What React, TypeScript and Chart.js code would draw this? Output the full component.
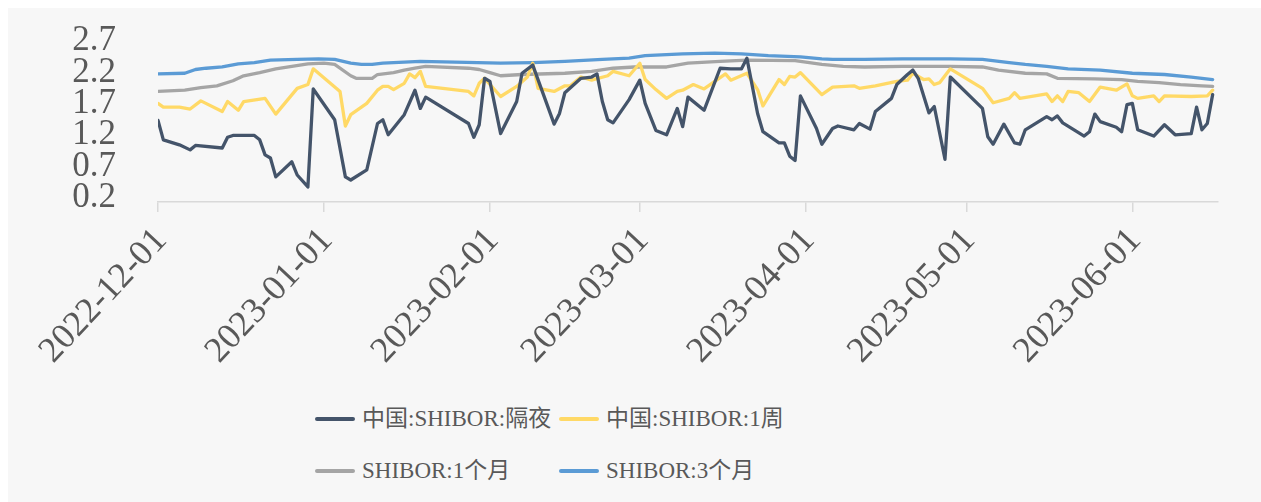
import React, { useEffect, useRef } from "react";
import { Chart, registerables } from "chart.js";

Chart.register(...registerables);

const startDate = "2022-12-01";
const endDate = "2023-06-17";
const monthTicks = ["2022-12-01", "2023-01-01", "2023-02-01", "2023-03-01", "2023-04-01", "2023-05-01", "2023-06-01"];
const yTicks = [0.2, 0.7, 1.2, 1.7, 2.2, 2.7];

const seriesNames = ["中国:SHIBOR:隔夜", "中国:SHIBOR:1周", "SHIBOR:1个月", "SHIBOR:3个月"];
const seriesColors = ["#44546a", "#ffd966", "#a5a5a5", "#5b9bd5"];

const overnightDates = [
  "2022-12-01", "2022-12-02", "2022-12-05", "2022-12-07", "2022-12-08", "2022-12-13", "2022-12-14", "2022-12-15",
  "2022-12-19", "2022-12-20", "2022-12-21", "2022-12-22", "2022-12-23", "2022-12-26", "2022-12-27", "2022-12-29",
  "2022-12-30", "2023-01-03", "2023-01-05", "2023-01-06", "2023-01-09", "2023-01-11", "2023-01-12", "2023-01-13",
  "2023-01-16", "2023-01-18", "2023-01-19", "2023-01-20", "2023-01-28", "2023-01-29", "2023-01-30", "2023-01-31",
  "2023-02-01", "2023-02-03", "2023-02-06", "2023-02-07", "2023-02-09", "2023-02-11", "2023-02-13", "2023-02-14",
  "2023-02-15", "2023-02-18", "2023-02-20", "2023-02-21", "2023-02-22", "2023-02-23", "2023-02-24", "2023-02-27",
  "2023-03-01", "2023-03-02", "2023-03-04", "2023-03-06", "2023-03-08", "2023-03-09", "2023-03-10", "2023-03-13",
  "2023-03-16", "2023-03-18", "2023-03-20", "2023-03-21", "2023-03-23", "2023-03-24", "2023-03-27", "2023-03-28",
  "2023-03-29", "2023-03-30", "2023-03-31", "2023-04-03", "2023-04-04", "2023-04-06", "2023-04-07", "2023-04-10",
  "2023-04-11", "2023-04-13", "2023-04-14", "2023-04-17", "2023-04-18", "2023-04-20", "2023-04-21", "2023-04-22",
  "2023-04-24", "2023-04-25", "2023-04-27", "2023-04-28", "2023-05-04", "2023-05-05", "2023-05-06", "2023-05-08",
  "2023-05-10", "2023-05-11", "2023-05-12", "2023-05-16", "2023-05-17", "2023-05-18", "2023-05-19", "2023-05-23",
  "2023-05-24", "2023-05-25", "2023-05-26", "2023-05-29", "2023-05-30", "2023-05-31", "2023-06-01", "2023-06-02",
  "2023-06-05", "2023-06-07", "2023-06-09", "2023-06-12", "2023-06-13", "2023-06-14", "2023-06-15", "2023-06-16",
];
const overnightValues = [
  1.50, 1.19, 1.11, 1.03, 1.10, 1.06, 1.23, 1.26,
  1.26, 1.19, 0.95, 0.90, 0.60, 0.84, 0.63, 0.44,
  2.00, 1.51, 0.60, 0.55, 0.71, 1.45, 1.51, 1.27,
  1.59, 1.98, 1.69, 1.87, 1.45, 1.23, 1.43, 2.17,
  2.12, 1.29, 1.80, 2.25, 2.38, 1.91, 1.44, 1.61,
  1.94, 2.17, 2.19, 2.24, 1.80, 1.51, 1.46, 1.83,
  2.14, 1.77, 1.34, 1.27, 1.69, 1.40, 1.87, 1.66,
  2.33, 2.32, 2.32, 2.49, 1.61, 1.32, 1.14, 1.14,
  0.93, 0.86, 1.89, 1.37, 1.12, 1.37, 1.41, 1.35,
  1.45, 1.36, 1.64, 1.85, 2.07, 2.23, 2.30, 2.17,
  1.62, 1.72, 0.88, 2.19, 1.69, 1.24, 1.12, 1.44,
  1.14, 1.12, 1.35, 1.56, 1.51, 1.57, 1.46, 1.25,
  1.32, 1.60, 1.48, 1.39, 1.32, 1.75, 1.77, 1.35,
  1.25, 1.43, 1.27, 1.29, 1.71, 1.35, 1.45, 1.91,
];

const weekDates = [
  "2022-12-01", "2022-12-02", "2022-12-05", "2022-12-07", "2022-12-09", "2022-12-13", "2022-12-14", "2022-12-16",
  "2022-12-17", "2022-12-21", "2022-12-23", "2022-12-27", "2022-12-29", "2022-12-30", "2023-01-04", "2023-01-05",
  "2023-01-06", "2023-01-09", "2023-01-11", "2023-01-12", "2023-01-13", "2023-01-14", "2023-01-16", "2023-01-17",
  "2023-01-18", "2023-01-19", "2023-01-20", "2023-01-28", "2023-01-29", "2023-01-30", "2023-01-31", "2023-02-03",
  "2023-02-06", "2023-02-08", "2023-02-09", "2023-02-10", "2023-02-13", "2023-02-15", "2023-02-16", "2023-02-18",
  "2023-02-20", "2023-02-23", "2023-02-24", "2023-02-27", "2023-03-01", "2023-03-02", "2023-03-04", "2023-03-06",
  "2023-03-08", "2023-03-09", "2023-03-11", "2023-03-13", "2023-03-15", "2023-03-17", "2023-03-18", "2023-03-21",
  "2023-03-23", "2023-03-24", "2023-03-27", "2023-03-28", "2023-03-29", "2023-03-30", "2023-03-31", "2023-04-04",
  "2023-04-06", "2023-04-10", "2023-04-11", "2023-04-14", "2023-04-18", "2023-04-20", "2023-04-21", "2023-04-23",
  "2023-04-24", "2023-04-25", "2023-04-26", "2023-04-28", "2023-05-04", "2023-05-06", "2023-05-09", "2023-05-10",
  "2023-05-11", "2023-05-16", "2023-05-17", "2023-05-18", "2023-05-19", "2023-05-20", "2023-05-22", "2023-05-24",
  "2023-05-26", "2023-05-29", "2023-05-31", "2023-06-01", "2023-06-02", "2023-06-05", "2023-06-06", "2023-06-07",
  "2023-06-12", "2023-06-15", "2023-06-16",
];
const weekValues = [
  1.77, 1.71, 1.71, 1.68, 1.81, 1.64, 1.80, 1.66,
  1.80, 1.85, 1.60, 2.01, 2.07, 2.32, 1.96, 1.41,
  1.59, 1.77, 1.98, 2.04, 2.04, 1.99, 2.09, 2.24,
  2.18, 2.28, 2.04, 1.96, 1.89, 2.09, 2.17, 1.88,
  2.04, 2.19, 2.41, 2.01, 1.96, 2.05, 2.05, 2.19,
  2.14, 2.21, 2.28, 2.21, 2.41, 2.15, 1.99, 1.85,
  1.96, 1.98, 2.07, 2.00, 2.12, 2.24, 2.14, 2.25,
  1.99, 1.73, 2.15, 2.07, 2.20, 2.19, 2.26, 1.91,
  2.03, 2.05, 2.01, 2.05, 2.12, 2.14, 2.25, 2.15,
  2.16, 2.07, 2.10, 2.32, 2.01, 1.78, 1.85, 1.94,
  1.85, 1.92, 1.80, 1.89, 1.80, 1.96, 1.94, 1.80,
  2.03, 1.98, 2.08, 1.89, 1.85, 1.89, 1.80, 1.89,
  1.88, 1.89, 1.98,
];

const monthDates = [
  "2022-12-01", "2022-12-06", "2022-12-09", "2022-12-12", "2022-12-15", "2022-12-17", "2022-12-20", "2022-12-23",
  "2022-12-26", "2022-12-29", "2023-01-01", "2023-01-03", "2023-01-06", "2023-01-07", "2023-01-10", "2023-01-11",
  "2023-01-14", "2023-01-16", "2023-01-18", "2023-01-20", "2023-01-28", "2023-01-30", "2023-02-01", "2023-02-03",
  "2023-02-07", "2023-02-15", "2023-02-20", "2023-02-24", "2023-02-28", "2023-03-06", "2023-03-10", "2023-03-16",
  "2023-03-21", "2023-03-30", "2023-04-04", "2023-04-08", "2023-04-12", "2023-04-19", "2023-04-28", "2023-05-04",
  "2023-05-07", "2023-05-12", "2023-05-16", "2023-05-18", "2023-05-25", "2023-05-30", "2023-06-02", "2023-06-06",
  "2023-06-10", "2023-06-14", "2023-06-16",
];
const monthValues = [
  1.96, 1.98, 2.02, 2.05, 2.13, 2.21, 2.26, 2.32,
  2.36, 2.40, 2.41, 2.39, 2.21, 2.17, 2.17, 2.23,
  2.26, 2.30, 2.33, 2.36, 2.33, 2.31, 2.26, 2.21,
  2.23, 2.25, 2.28, 2.33, 2.35, 2.35, 2.41, 2.44,
  2.46, 2.45, 2.39, 2.36, 2.35, 2.36, 2.36, 2.35,
  2.30, 2.25, 2.24, 2.17, 2.16, 2.15, 2.12, 2.10,
  2.07, 2.05, 2.04,
];

const quarterDates = [
  "2022-12-01", "2022-12-06", "2022-12-08", "2022-12-10", "2022-12-13", "2022-12-16", "2022-12-19", "2022-12-22",
  "2022-12-27", "2022-12-31", "2023-01-03", "2023-01-06", "2023-01-08", "2023-01-10", "2023-01-12", "2023-01-19",
  "2023-02-03", "2023-02-09", "2023-02-15", "2023-02-22", "2023-02-27", "2023-03-02", "2023-03-09", "2023-03-15",
  "2023-03-20", "2023-03-25", "2023-03-31", "2023-04-04", "2023-04-06", "2023-04-12", "2023-04-19", "2023-04-28",
  "2023-05-04", "2023-05-09", "2023-05-12", "2023-05-16", "2023-05-20", "2023-05-26", "2023-06-01", "2023-06-07",
  "2023-06-12", "2023-06-16",
];
const quarterValues = [
  2.24, 2.25, 2.31, 2.33, 2.35, 2.40, 2.42, 2.46,
  2.47, 2.48, 2.47, 2.41, 2.39, 2.39, 2.41, 2.44,
  2.41, 2.42, 2.44, 2.47, 2.49, 2.53, 2.56, 2.57,
  2.56, 2.53, 2.51, 2.48, 2.47, 2.47, 2.48, 2.48,
  2.47, 2.42, 2.39, 2.36, 2.32, 2.30, 2.25, 2.23,
  2.19, 2.15,
];

const DAY = 86400000;
const dayOffset = (d: string) => Math.round((Date.parse(d) - Date.parse(startDate)) / DAY);
const dateFromOffset = (n: number) => new Date(Date.parse(startDate) + n * DAY).toISOString().slice(0, 10);

const FONT = "'Liberation Serif', 'Times New Roman', 'Noto Sans CJK SC', serif";
const TEXT_COLOR = "#595959";

const W = 1253;
const H = 392;
const PLOT_LEFT = 150;
const PLOT_RIGHT = 1210;
const PLOT_TOP = 37;
const PLOT_BOTTOM = 194;

export default function App() {
  const ref = useRef<HTMLCanvasElement | null>(null);

  useEffect(() => {
    if (!ref.current) return;
    const all = [
      [overnightDates, overnightValues],
      [weekDates, weekValues],
      [monthDates, monthValues],
      [quarterDates, quarterValues],
    ] as [string[], number[]][];
    const datasets = all.map(([dates, values], i) => ({
      label: seriesNames[i],
      data: dates.map((d, j) => ({ x: dayOffset(d), y: values[j] })),
      borderColor: seriesColors[i],
      backgroundColor: seriesColors[i],
      borderWidth: 3.3,
      pointRadius: 0,
      tension: 0,
      borderJoinStyle: "round" as const,
      borderCapStyle: "round" as const,
      fill: false,
    }));

    const chart = new Chart(ref.current, {
      type: "line",
      data: { datasets },
      options: {
        animation: false,
        responsive: false,
        events: [],
        layout: {
          padding: { left: 0, right: W - PLOT_RIGHT, top: PLOT_TOP, bottom: 0 },
        },
        plugins: {
          legend: { display: false },
          tooltip: { enabled: false },
          title: { display: false },
        },
        scales: {
          x: {
            type: "linear",
            min: 0,
            max: dayOffset(endDate),
            afterBuildTicks: (scale: any) => {
              scale.ticks = monthTicks.map((d) => ({ value: dayOffset(d) }));
            },
            afterFit: (scale: any) => {
              scale.height = H - PLOT_BOTTOM;
              scale.paddingLeft = 0;
              scale.paddingRight = 0;
            },
            ticks: {
              autoSkip: false,
              maxRotation: 47,
              minRotation: 47,
              padding: 8,
              labelOffset: 3,
              color: TEXT_COLOR,
              font: { family: FONT, size: 36 },
              callback: (v: any) => dateFromOffset(Number(v)),
            },
            grid: {
              drawOnChartArea: false,
              drawTicks: true,
              tickLength: 10,
              color: "#d9d9d9",
              lineWidth: 1.5,
            },
            border: { display: true, color: "#d9d9d9", width: 1.5 },
          },
          y: {
            type: "linear",
            min: yTicks[0],
            max: yTicks[yTicks.length - 1],
            afterBuildTicks: (scale: any) => {
              scale.ticks = yTicks.map((v) => ({ value: v }));
            },
            afterFit: (scale: any) => {
              scale.width = PLOT_LEFT;
              scale.paddingTop = 0;
              scale.paddingBottom = 0;
            },
            ticks: {
              autoSkip: false,
              padding: 42,
              labelOffset: -4,
              color: TEXT_COLOR,
              font: { family: FONT, size: 35 },
              callback: (v: any) => Number(v).toFixed(1),
            },
            grid: { display: false, drawTicks: false },
            border: { display: false },
          },
        },
      },
    });
    return () => chart.destroy();
  }, []);

  const legendPos = [
    { left: 307, top: 403 },
    { left: 551, top: 403 },
    { left: 307, top: 455 },
    { left: 551, top: 455 },
  ];

  return (
    <div
      style={{
        position: "fixed",
        left: 8,
        top: 8,
        right: 0,
        bottom: 0,
        background: "#f7f7f7",
        overflow: "hidden",
      }}
    >
      <canvas ref={ref} width={W} height={H} style={{ position: "absolute", left: 0, top: 0, width: W, height: H }} />
      {seriesNames.map((name, i) => (
        <div
          key={name}
          style={{
            position: "absolute",
            left: legendPos[i].left,
            top: legendPos[i].top,
            height: 16,
            display: "flex",
            alignItems: "center",
            whiteSpace: "nowrap",
            fontFamily: FONT,
            fontSize: 23,
            color: TEXT_COLOR,
            lineHeight: "16px",
          }}
        >
          <span
            style={{
              display: "inline-block",
              width: 40,
              height: 4,
              borderRadius: 2,
              background: seriesColors[i],
              marginRight: 7,
            }}
          />
          <span>{name}</span>
        </div>
      ))}
    </div>
  );
}
